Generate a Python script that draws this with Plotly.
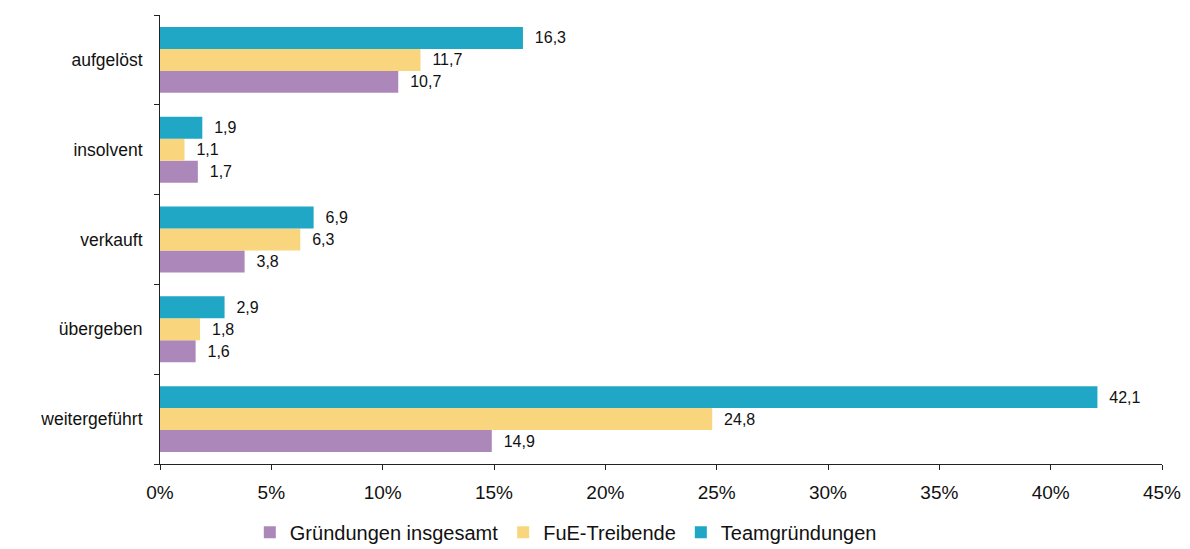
import plotly.graph_objects as go

categories = ["weitergeführt", "übergeben", "verkauft", "insolvent", "aufgelöst"]
series_names = ["Gründungen insgesamt", "FuE-Treibende", "Teamgründungen"]
gruendungen = [14.9, 1.6, 3.8, 1.7, 10.7]
fue = [24.8, 1.8, 6.3, 1.1, 11.7]
team = [42.1, 2.9, 6.9, 1.9, 16.3]
colors = ["#AC87BA", "#F9D57E", "#21A7C6"]
x_ticks = [0, 5, 10, 15, 20, 25, 30, 35, 40, 45]

FONT = "Arial, Liberation Sans, sans-serif"

fig = go.Figure()
for name, vals, col in zip(series_names, [gruendungen, fue, team], colors):
    fig.add_trace(go.Bar(
        y=categories, x=vals, name=name, orientation="h",
        marker=dict(color=col, line=dict(width=0)),
        text=["\u00a0\u00a0" + f"{v:.1f}".replace(".", ",") for v in vals],
        textposition="outside",
        textfont=dict(family=FONT, size=16, color="#111"),
        cliponaxis=False,
    ))

fig.update_layout(
    barmode="group",
    bargap=0.266,
    bargroupgap=0,
    width=1190, height=549,
    margin=dict(l=159.5, r=28, t=14.5, b=85, autoexpand=False),
    plot_bgcolor="white", paper_bgcolor="white",
    font=dict(family=FONT, size=17, color="#111"),
    showlegend=True,
    legend=dict(orientation="h", x=0.405, xanchor="center", y=-0.152, yanchor="middle",
                font=dict(family=FONT, size=20, color="#111"), traceorder="normal",
                itemwidth=30),
)
fig.update_xaxes(
    range=[0, 45], tickvals=x_ticks, ticktext=[f"{t}%" for t in x_ticks],
    showgrid=False, zeroline=False, showline=True, linecolor="#222", linewidth=1,
    ticks="outside", ticklen=5, tickcolor="#222",
    tickfont=dict(family=FONT, size=19, color="#111"),
    ticklabelstandoff=6,
)
fig.update_yaxes(
    type="category", categoryorder="array", categoryarray=categories,
    range=[-0.5, 4.5],
    showgrid=False, zeroline=False, showline=True, linecolor="#222", linewidth=1,
    ticks="outside", tickson="boundaries", ticklen=5, tickcolor="#222",
    tickfont=dict(family=FONT, size=17.5, color="#111"),
    ticklabelstandoff=13,
)

fig.write_html("out.html", config={"displayModeBar": False},
               post_script="document.body.style.margin='0';document.body.style.overflow='hidden';")
